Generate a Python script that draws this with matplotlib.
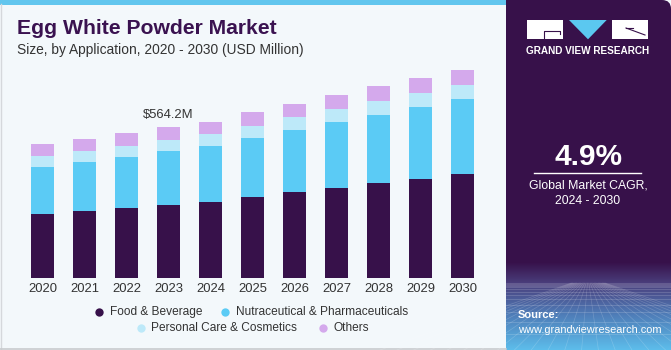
import numpy as np
import matplotlib
matplotlib.use("Agg")
import matplotlib.pyplot as plt
from matplotlib.patches import Rectangle, Polygon, FancyBboxPatch

# ---------------- data ----------------
years = ["2020", "2021", "2022", "2023", "2024", "2025",
         "2026", "2027", "2028", "2029", "2030"]
food_beverage = [241.3, 252.6, 263.8, 275.0, 286.2, 304.9, 321.3, 338.5, 354.9, 372.1, 388.5]
nutraceutical = [175.6, 183.1, 190.5, 200.6, 209.2, 220.4, 232.8, 244.3, 256.3, 269.0, 280.2]
personal_care = [40.0, 40.0, 41.1, 41.1, 43.7, 44.8, 47.4, 48.6, 51.2, 52.3, 53.4]
others = [43.7, 44.8, 47.4, 47.5, 46.0, 50.1, 50.8, 54.5, 54.9, 54.9, 57.2]
segment_names = ["Food & Beverage", "Nutraceutical & Pharmaceuticals",
                 "Personal Care & Cosmetics", "Others"]
highlight_year = "2023"
highlight_label = "$564.2M"
title = "Egg White Powder Market"
subtitle = "Size, by Application, 2020 - 2030 (USD Million)"
cagr_value = "4.9%"
cagr_text = "Global Market CAGR,\n2024 - 2030"
brand = "GRAND VIEW RESEARCH"
source_head = "Source:"
source_url = "www.grandviewresearch.com"

# ---------------- style ----------------
colors = ["#37114A", "#5BCBF5", "#BDE9F9", "#D4A9EC"]
bg_color = "#F3F8FB"
panel_color = "#37114A"
text_dark = "#333333"
title_color = "#3A1250"
FONT = ["Liberation Sans", "DejaVu Sans"]
plt.rcParams["font.family"] = FONT

W, H = 671, 350
fig = plt.figure(figsize=(W / 100, H / 100), dpi=100, facecolor=bg_color)

# background / decoration axes in pixel coordinates
bg = fig.add_axes([0, 0, 1, 1], zorder=0)
bg.set_xlim(0, W)
bg.set_ylim(H, 0)
bg.axis("off")

# top light-blue strip, borders
bg.add_patch(Rectangle((0, 0), 506, 4.5, color="#62C6EE", lw=0))
bg.plot([0.5, 0.5], [4, 349], color="#D5D8DC", lw=1)
bg.plot([0, 506], [348.5, 348.5], color="#C8CBCE", lw=1.2)

# right panel
bg.add_patch(FancyBboxPatch((506, 0), W - 506, H, boxstyle="round,pad=0,rounding_size=9",
                            color=panel_color, lw=0))
bg.add_patch(Rectangle((506, 0), 40, H, color=panel_color, lw=0))
bg.add_patch(Rectangle((506, 300), W - 506, 50, color=panel_color, lw=0))

# gradient at bottom of the panel
gy0 = 262
ys = np.linspace(0, 1, 200)
stops_t = [0.0, 0.24, 0.6, 1.0]
stops_c = [np.array(matplotlib.colors.to_rgb(c)) for c in ["#37114A", "#4A3E7C", "#4F7DB8", "#5DBDEB"]]
grad = np.zeros((200, 2, 3))
for k in range(3):
    grad[:, :, k] = np.interp(ys, stops_t, [c[k] for c in stops_c])[:, None]
bg.imshow(grad, extent=[506, W, H, gy0], aspect="auto", zorder=1, interpolation="bilinear")

# perspective grid texture
horizon = 283
hy = horizon + (H - horizon) * (np.geomspace(1, 30, 14) - 1) / 29
for yy in hy:
    bg.plot([506, W], [yy, yy], color="white", alpha=0.22, lw=0.5, zorder=2)
vx = 588
for xb in np.linspace(380, 800, 26):
    bg.plot([vx + (xb - vx) * 0.08, xb], [horizon, H], color="white", alpha=0.18, lw=0.5, zorder=2)
bg.set_xlim(0, W)
bg.set_ylim(H, 0)

# logo
bg.add_patch(Rectangle((527.3, 20), 36, 19, color="white", lw=0, zorder=3))
bg.plot([544, 544, 560, 560], [38, 31, 31, 34], color=panel_color, lw=0.8, zorder=4)
bg.add_patch(Polygon([(569, 20), (606.7, 20), (588, 39.3)], color="#5BC8F0", lw=0, zorder=3))
bg.add_patch(Rectangle((611.7, 20), 36.6, 19, color="white", lw=0, zorder=3))
bg.plot([626, 645], [28, 35], color=panel_color, lw=0.8, zorder=4)
bg.plot([626, 633], [28, 28], color=panel_color, lw=0.8, zorder=4)
bg.text(588, 51.5, brand, color="white", fontsize=7.2, fontweight="bold",
        ha="center", va="center", zorder=4)

# CAGR block
bg.text(588.5, 157, cagr_value, color="white", fontsize=21.5, fontweight="bold",
        ha="center", va="center", zorder=4)
bg.plot([534, 641], [173.3, 173.3], color="white", lw=1, zorder=4)
bg.text(588, 193, cagr_text, color="white", fontsize=8.8, ha="center", va="center",
        linespacing=1.35, zorder=4)

# source
bg.text(518, 315, source_head, color="white", fontsize=8, fontweight="bold",
        ha="left", va="center", zorder=4)
bg.text(518, 330, source_url, color="white", fontsize=7.9, ha="left", va="center", zorder=4)

# titles
bg.text(17, 34.3, title, color=title_color, fontsize=15.2, fontweight="bold",
        ha="left", va="baseline")
bg.text(17, 54, subtitle, color=text_dark, fontsize=9.9, ha="left", va="baseline")

# ---------------- chart ----------------
ax_left, ax_w = 21.7, 461.8
ax_bottom, ax_h = 71.7, 218.3
ax = fig.add_axes([ax_left / W, ax_bottom / H, ax_w / W, ax_h / H], zorder=2)
ax.set_facecolor("none")
x = np.arange(len(years))
series = [food_beverage, nutraceutical, personal_care, others]
bottom = np.zeros(len(years))
for vals, col, name in zip(series, colors, segment_names):
    vals = np.array(vals)
    ax.bar(x, vals, width=0.55, bottom=bottom, color=col, label=name, lw=0)
    bottom += vals
ax.set_xlim(-0.5, len(years) - 0.5)
ax.set_ylim(0, ax_h * 564.2 / 151.0)
ax.set_xticks(x, years)
ax.tick_params(axis="x", length=0, pad=3.5, labelsize=9.4, labelcolor=text_dark)
ax.set_yticks([])
for s in ax.spines.values():
    s.set_visible(False)

hi = years.index(highlight_year)
ax.annotate(highlight_label, (x[hi], bottom[hi]), xytext=(0, 6.5), textcoords="offset points",
            ha="center", va="baseline", fontsize=9.4, color=text_dark)

# ---------------- legend (two centered rows) ----------------
legend_layout = [(99.3, 312.3), (225.0, 312.3), (140.7, 328.3), (322.7, 328.3)]
for (lx, ly), col, name in zip(legend_layout, colors, segment_names):
    bg.plot([lx], [ly], marker="o", ms=6, color=col, mew=0)
    bg.text(lx + 10.5, ly, name, color=text_dark, fontsize=8.6, ha="left", va="center")

fig.savefig("out.png", dpi=100, facecolor=bg_color)
